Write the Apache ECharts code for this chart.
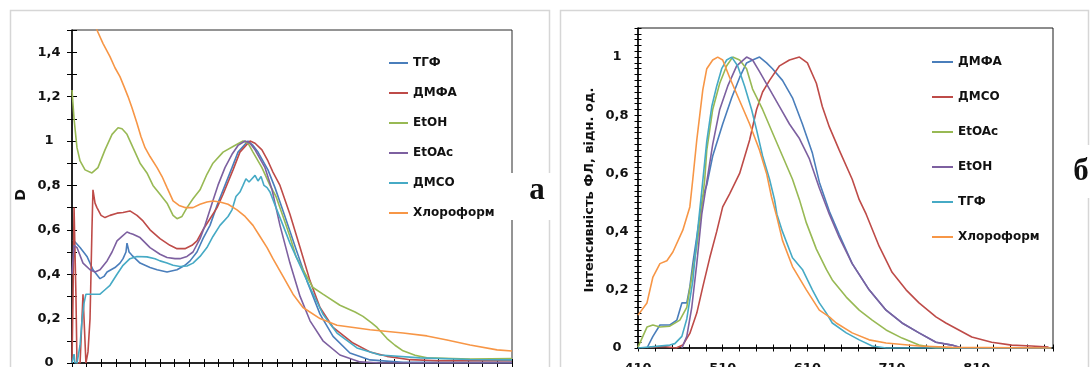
<!DOCTYPE html>
<html>
<head>
<meta charset="utf-8">
<script src="https://cdn.jsdelivr.net/npm/echarts@6/dist/echarts.min.js"></script>
<style>
html,body{margin:0;padding:0;background:#fff;}
#c{width:1091px;height:367px;}
</style>
</head>
<body>
<div id="c"></div>
<script>
// ---------- Panel a: absorption spectra (wavelength nm, D) ----------
const absTGF = [[250.7,0.555],[255.5,0.52],[260.2,0.48],[264.3,0.42],[269.1,0.38],[271.8,0.39],[273.9,0.41],[279.3,0.43],[282.7,0.45],[284.8,0.47],[286.8,0.5],[287.5,0.54],[288.9,0.5],[290.9,0.485],[296.4,0.45],[303.2,0.43],[308.0,0.42],[314.8,0.41],[321.6,0.42],[327.0,0.44],[330.5,0.46],[335.2,0.5],[339.3,0.56],[344.1,0.62],[348.9,0.71],[354.3,0.8],[359.1,0.88],[363.2,0.95],[370.0,1.0],[373.4,0.98],[376.8,0.95],[383.6,0.87],[388.4,0.79],[395.2,0.66],[403.4,0.5],[410.2,0.37],[419.1,0.22],[428.0,0.12],[439.5,0.045],[453.2,0.014],[475.7,0.003],[550,0.003]];
const absDMFA = [[250,0],[250.7,0.3],[251.4,0.70],[252.7,0.3],[253.4,0],[255.5,0],[257.5,0.31],[258.2,0.2],[259.5,0],[260.9,0.05],[262.3,0.2],[263.6,0.6],[264.3,0.78],[265.7,0.72],[267.0,0.70],[269.8,0.665],[272.5,0.655],[275.9,0.665],[280.7,0.675],[284.8,0.678],[289.5,0.685],[294.3,0.665],[298.4,0.64],[303.2,0.6],[310.0,0.56],[316.8,0.53],[321.6,0.515],[327.0,0.515],[331.8,0.53],[335.2,0.55],[339.3,0.6],[344.1,0.65],[348.9,0.7],[353.0,0.76],[359.8,0.87],[364.5,0.95],[371.4,1.0],[374.8,0.99],[379.5,0.96],[383.6,0.91],[387.0,0.86],[391.8,0.8],[398.6,0.67],[405.5,0.52],[412.3,0.37],[419.1,0.25],[428.0,0.16],[441.6,0.09],[453.2,0.05],[464.8,0.03],[480.5,0.015],[498.9,0.01],[550,0.01]];
const absEtOH = [[250,1.23],[251.4,1.1],[253.4,0.97],[255.5,0.91],[258.9,0.87],[263.6,0.856],[267.7,0.88],[272.5,0.96],[277.3,1.03],[281.4,1.06],[284.1,1.055],[287.5,1.03],[291.6,0.97],[296.4,0.9],[301.1,0.856],[305.2,0.8],[310.0,0.76],[314.8,0.72],[318.9,0.665],[321.6,0.65],[325.0,0.66],[328.4,0.70],[332.5,0.74],[337.3,0.78],[342.0,0.85],[346.1,0.9],[353.0,0.95],[359.8,0.975],[366.6,1.0],[370.0,0.99],[373.4,0.95],[379.5,0.88],[385.0,0.8],[389.1,0.75],[393.9,0.66],[398.6,0.57],[402.7,0.48],[407.5,0.42],[414.3,0.34],[421.1,0.31],[432.7,0.26],[443.0,0.23],[448.4,0.21],[454.5,0.18],[458.0,0.16],[464.8,0.11],[470.2,0.08],[475.7,0.055],[483.9,0.035],[492.0,0.023],[521.4,0.018],[550,0.02]];
const absEtOAc = [[250,0.40],[251.4,0.53],[253.4,0.52],[257.5,0.45],[262.3,0.42],[265.7,0.41],[269.1,0.42],[273.9,0.46],[277.3,0.5],[280.7,0.55],[284.1,0.57],[287.5,0.59],[289.5,0.585],[291.6,0.58],[296.4,0.565],[303.2,0.52],[310.0,0.49],[314.8,0.475],[320.2,0.47],[323.6,0.47],[328.4,0.48],[332.5,0.5],[337.3,0.56],[340.7,0.62],[345.5,0.72],[349.5,0.8],[354.3,0.88],[359.1,0.94],[363.2,0.98],[368.0,1.0],[371.4,0.99],[374.8,0.96],[381.6,0.88],[386.4,0.78],[391.8,0.62],[398.6,0.45],[405.5,0.3],[412.3,0.19],[421.1,0.1],[432.7,0.036],[446.4,0.005],[460.0,0],[550,0]];
const absDMSO = [[250,0],[250.7,0.02],[251.4,0.04],[252.0,0],[253.4,0],[255.5,0.08],[256.8,0.19],[258.2,0.27],[259.5,0.31],[263.6,0.31],[269.1,0.31],[272.5,0.33],[275.9,0.35],[280.7,0.4],[284.8,0.44],[289.5,0.47],[294.3,0.48],[301.1,0.478],[306.6,0.47],[310.0,0.46],[314.8,0.45],[318.9,0.44],[323.6,0.435],[328.4,0.437],[332.5,0.45],[337.3,0.48],[342.0,0.52],[346.1,0.57],[350.9,0.62],[356.4,0.66],[359.1,0.69],[361.8,0.75],[364.5,0.77],[366.6,0.8],[368.6,0.83],[370.7,0.815],[372.7,0.83],[374.8,0.845],[376.8,0.82],[378.9,0.84],[380.9,0.8],[383.0,0.79],[385.0,0.77],[389.1,0.7],[393.9,0.62],[398.6,0.54],[403.4,0.47],[412.3,0.34],[421.1,0.22],[430.7,0.135],[444.3,0.068],[460.0,0.036],[487.3,0.023],[521.4,0.016],[550,0.014]];
const absCHCl3 = [[265.7,1.58],[267.0,1.5],[271.1,1.44],[275.9,1.38],[279.3,1.33],[282.7,1.29],[285.5,1.245],[288.2,1.2],[290.9,1.15],[294.3,1.08],[297.0,1.02],[299.8,0.97],[303.2,0.93],[308.0,0.88],[311.4,0.84],[314.8,0.79],[318.9,0.73],[323.0,0.71],[327.0,0.70],[332.5,0.70],[337.3,0.715],[342.0,0.725],[346.1,0.73],[350.9,0.725],[356.4,0.715],[362.5,0.69],[368.0,0.66],[373.4,0.62],[378.2,0.57],[383.0,0.52],[387.0,0.47],[393.9,0.39],[400.7,0.31],[407.5,0.25],[419.1,0.2],[430.7,0.17],[453.2,0.15],[475.7,0.135],[492.0,0.122],[505.7,0.104],[521.4,0.081],[539.8,0.059],[550,0.054]];

// ---------- Panel б: fluorescence spectra (wavelength nm, normalised intensity) ----------
const flDMFA = [[420.6,0],[427.6,0.04],[435.9,0.079],[447.6,0.079],[455.9,0.096],[461.8,0.155],[467.6,0.155],[471.2,0.21],[474.7,0.29],[480.6,0.405],[486.5,0.52],[491.2,0.56],[498.2,0.66],[510,0.77],[520.6,0.86],[530,0.93],[538.2,0.98],[545.3,0.99],[553.5,1.0],[561.8,0.98],[568.8,0.96],[580.6,0.92],[592.4,0.86],[604.1,0.77],[615.9,0.67],[624.1,0.57],[635.9,0.47],[647.6,0.39],[662.9,0.29],[682.9,0.2],[702.9,0.13],[721.8,0.086],[741.8,0.052],[761.8,0.02],[780.6,0.01],[792.4,0],[898,0]];
const flDMSO = [[424.1,0.003],[440,0.005],[455,0],[462.9,0.01],[471.2,0.05],[479.4,0.12],[486.5,0.21],[494.7,0.31],[502.9,0.4],[510,0.485],[518.2,0.53],[530,0.6],[541.8,0.715],[550,0.82],[557.1,0.88],[565.3,0.92],[577.1,0.97],[588.8,0.99],[600.6,1.0],[610,0.98],[620.6,0.91],[627.6,0.83],[635.9,0.76],[647.6,0.68],[662.9,0.58],[671.2,0.51],[679.4,0.46],[694.7,0.35],[710,0.26],[726.5,0.2],[741.8,0.155],[761.8,0.107],[773.5,0.086],[788.8,0.062],[804.1,0.038],[827.6,0.02],[851.2,0.01],[874.7,0.007],[894.7,0.003]];
const flEtOAc = [[410,0.003],[420.6,0.072],[427.6,0.079],[435.9,0.072],[447.6,0.075],[459.4,0.096],[467.6,0.14],[473.5,0.244],[479.4,0.35],[485.3,0.485],[488.8,0.58],[491.2,0.68],[498.2,0.82],[506.5,0.91],[514.7,0.97],[521.8,1.0],[530,0.99],[538.2,0.96],[545.3,0.89],[557.1,0.82],[568.8,0.74],[580.6,0.66],[592.4,0.58],[600.6,0.51],[608.8,0.43],[620.6,0.34],[632.4,0.27],[639.4,0.234],[655.9,0.175],[671.2,0.13],[686.5,0.096],[702.9,0.062],[721.8,0.034],[741.8,0.01],[761.8,0],[898,0]];
const flEtOH = [[461.8,0],[467.6,0.04],[473.5,0.14],[479.4,0.29],[485.3,0.46],[491.2,0.57],[498.2,0.7],[506.5,0.82],[515.9,0.9],[526.5,0.97],[538.2,1.0],[545.3,0.99],[553.5,0.95],[565.3,0.89],[577.1,0.83],[588.8,0.77],[600.6,0.72],[612.4,0.65],[624.1,0.55],[635.9,0.46],[647.6,0.38],[662.9,0.29],[682.9,0.2],[702.9,0.13],[721.8,0.086],[741.8,0.052],[761.8,0.02],[780.6,0.01],[792.4,0],[898,0]];
const flTGF = [[410,0],[447.6,0.01],[453.5,0.015],[461.8,0.04],[467.6,0.1],[474.7,0.23],[480.6,0.41],[485.3,0.54],[491.2,0.71],[497.1,0.83],[502.9,0.9],[508.8,0.96],[514.7,0.99],[520.6,1.0],[527.6,0.97],[535.9,0.9],[544.1,0.82],[550,0.75],[557.1,0.66],[565.3,0.58],[571.2,0.51],[574,0.46],[580.6,0.4],[592.4,0.31],[604.1,0.27],[615.9,0.2],[624.1,0.155],[632.4,0.12],[639.4,0.086],[655.9,0.052],[671.2,0.028],[686.5,0.007],[702.9,0],[898,0]];
const flCHCl3 = [[410,0.113],[420.6,0.155],[427.6,0.244],[435.9,0.29],[444.1,0.30],[451.2,0.33],[462.9,0.405],[471.2,0.485],[474.7,0.58],[479.4,0.715],[486.5,0.887],[491.2,0.96],[498.2,0.99],[504.1,1.0],[510,0.99],[518.2,0.93],[530,0.85],[541.8,0.77],[553.5,0.68],[561.8,0.6],[567.6,0.52],[574,0.45],[580.6,0.37],[592.4,0.28],[608.8,0.2],[624.1,0.13],[635.9,0.107],[644.1,0.086],[662.9,0.052],[682.9,0.028],[702.9,0.017],[741.8,0.007],[780.6,0.002],[898,0]];

const legendA = ['ТГФ','ДМФА','EtOH','EtOAc','ДМСО','Хлороформ'];
const legendB = ['ДМФА','ДМСО','EtOAc','EtOH','ТГФ','Хлороформ'];
const yTitleA = 'D';
const yTitleB = 'Інтенсивність ФЛ, відн. од.';

const C = {blue:'#4a7ebb', red:'#be4b48', green:'#98b954', purple:'#7d60a0', cyan:'#46aac5', orange:'#f79646'};
const FONT = 'DejaVu Sans';
const TXT = '#111';

function isMult(v, step){ const q = v/step; return Math.abs(q - Math.round(q)) < 1e-6; }
function comma(v){ return String(Math.round(v*10)/10).replace('.', ','); }

const chart = echarts.init(document.getElementById('c'), null, {renderer:'canvas'});

function line(name, data, color, xi, yi){
  return {type:'line', name:name, data:data, xAxisIndex:xi, yAxisIndex:yi, showSymbol:false, symbol:'none',
    lineStyle:{color:color, width:1.6}, itemStyle:{color:color}, animation:false, clip:true};
}
const SUF = '\u200b';

const axisBase = {axisLine:{show:true, lineStyle:{color:'#000', width:1.5}}, splitLine:{show:false}};

chart.setOption({
  animation:false,
  backgroundColor:'#fff',
  grid:[
    {left:72, top:30, width:440, height:333, show:true, borderColor:'#2a2a2a', borderWidth:1, backgroundColor:'transparent', containLabel:false, outerBoundsMode:'none'},
    {left:638, top:28, width:415, height:320, show:true, borderColor:'#1a1a1a', borderWidth:1, backgroundColor:'transparent', containLabel:false, outerBoundsMode:'none'}
  ],
  xAxis:[
    Object.assign({}, axisBase, {type:'value', gridIndex:0, position:'bottom', min:250, max:550, interval:10,
      axisTick:{show:true, length:4, lineStyle:{color:'#000', width:1}}, axisLabel:{show:false}}),
    {type:'value', gridIndex:0, position:'bottom', min:250, max:550, interval:10, axisLine:{show:false}, splitLine:{show:false},
      axisTick:{show:true, inside:true, length:4, lineStyle:{color:'#000', width:1}}, axisLabel:{show:false}},
    Object.assign({}, axisBase, {type:'value', gridIndex:1, position:'bottom', min:410, max:900, interval:20,
      axisTick:{show:true, length:3.5, lineStyle:{color:'#000', width:1}},
      axisLabel:{show:true, margin:14, fontFamily:FONT, fontWeight:'bold', fontSize:13, color:TXT,
        formatter:function(v){ const r = Math.round(v); return ((r-410)%100===0 && r<900) ? String(r) : ''; }}}),
    {type:'value', gridIndex:1, position:'bottom', min:410, max:900, interval:20, axisLine:{show:false}, splitLine:{show:false},
      axisTick:{show:true, inside:true, length:3.5, lineStyle:{color:'#000', width:1}}, axisLabel:{show:false}}
  ],
  yAxis:[
    Object.assign({}, axisBase, {type:'value', gridIndex:0, position:'left', min:0, max:1.5, interval:0.1,
      axisTick:{show:true, length:5, lineStyle:{color:'#000', width:1}},
      axisLabel:{show:true, margin:23, align:'center', fontFamily:FONT, fontWeight:'bold', fontSize:13, color:TXT,
        formatter:function(v){ return (isMult(v,0.2) && v < 1.45) ? comma(v) : ''; }}}),
    {type:'value', gridIndex:0, position:'left', min:0, max:1.5, interval:0.1, axisLine:{show:false}, splitLine:{show:false},
      axisTick:{show:true, inside:true, length:5, lineStyle:{color:'#000', width:1}}, axisLabel:{show:false}},
    Object.assign({}, axisBase, {type:'value', gridIndex:1, position:'left', min:0, max:1.1, interval:0.02,
      axisTick:{show:true, length:3.5, lineStyle:{color:'#000', width:1}},
      axisLabel:{show:true, margin:21, align:'center', fontFamily:FONT, fontWeight:'bold', fontSize:13, color:TXT,
        formatter:function(v){ return (isMult(v,0.2) && v < 1.05) ? comma(v) : ''; }}}),
    {type:'value', gridIndex:1, position:'left', min:0, max:1.1, interval:0.02, axisLine:{show:false}, splitLine:{show:false},
      axisTick:{show:true, inside:true, length:3.5, lineStyle:{color:'#000', width:1}}, axisLabel:{show:false}}
  ],
  legend:[
    {orient:'vertical', left:389, top:55, padding:0, itemWidth:19, itemHeight:2, itemGap:14, icon:'rect', selectedMode:false,
      data:legendA, textStyle:{fontFamily:FONT, fontWeight:'bold', fontSize:12, color:TXT, lineHeight:16}},
    {orient:'vertical', left:932, top:54, padding:0, itemWidth:21, itemHeight:2, itemGap:19, icon:'rect', selectedMode:false,
      data:legendB.map(function(n){ return n + SUF; }),
      formatter:function(n){ return n.replace(SUF,''); },
      textStyle:{fontFamily:FONT, fontWeight:'bold', fontSize:12, color:TXT, lineHeight:16}}
  ],
  series:[
    line('ТГФ', absTGF, C.blue, 0, 0),
    line('ДМФА', absDMFA, C.red, 0, 0),
    line('EtOH', absEtOH, C.green, 0, 0),
    line('EtOAc', absEtOAc, C.purple, 0, 0),
    line('ДМСО', absDMSO, C.cyan, 0, 0),
    line('Хлороформ', absCHCl3, C.orange, 0, 0),
    line('ДМФА'+SUF, flDMFA, C.blue, 2, 2),
    line('ДМСО'+SUF, flDMSO, C.red, 2, 2),
    line('EtOAc'+SUF, flEtOAc, C.green, 2, 2),
    line('EtOH'+SUF, flEtOH, C.purple, 2, 2),
    line('ТГФ'+SUF, flTGF, C.cyan, 2, 2),
    line('Хлороформ'+SUF, flCHCl3, C.orange, 2, 2)
  ],
  graphic:[
    {type:'rect', z:-10, shape:{x:10.5, y:10.5, width:539, height:420}, style:{fill:'none', stroke:'#d6d6d6', lineWidth:1.5}},
    {type:'rect', z:-10, shape:{x:560.5, y:10.5, width:528, height:420}, style:{fill:'none', stroke:'#d6d6d6', lineWidth:1.5}},
    {type:'text', z:50, x:21, y:195, rotation:Math.PI/2, style:{text:yTitleA, font:'bold 14px "DejaVu Sans"', fill:TXT, textAlign:'center', textVerticalAlign:'middle'}},
    {type:'text', z:50, x:590, y:190, rotation:Math.PI/2, style:{text:yTitleB, font:'bold 13px "DejaVu Sans"', fill:TXT, textAlign:'center', textVerticalAlign:'middle'}},
    {type:'rect', z:100, shape:{x:509, y:173, width:47, height:47}, style:{fill:'#fff', stroke:'none'}},
    {type:'text', z:101, x:537, y:191, style:{text:'a', font:'bold 31px "Liberation Serif"', fill:'#111', textAlign:'center', textVerticalAlign:'middle'}},
    {type:'rect', z:100, shape:{x:1056, y:145, width:35, height:53}, style:{fill:'#fff', stroke:'none'}},
    {type:'text', z:101, x:1081, y:172, style:{text:'б', font:'bold 31px "Liberation Serif"', fill:'#111', textAlign:'center', textVerticalAlign:'middle'}}
  ]
});
</script>
</body>
</html>
